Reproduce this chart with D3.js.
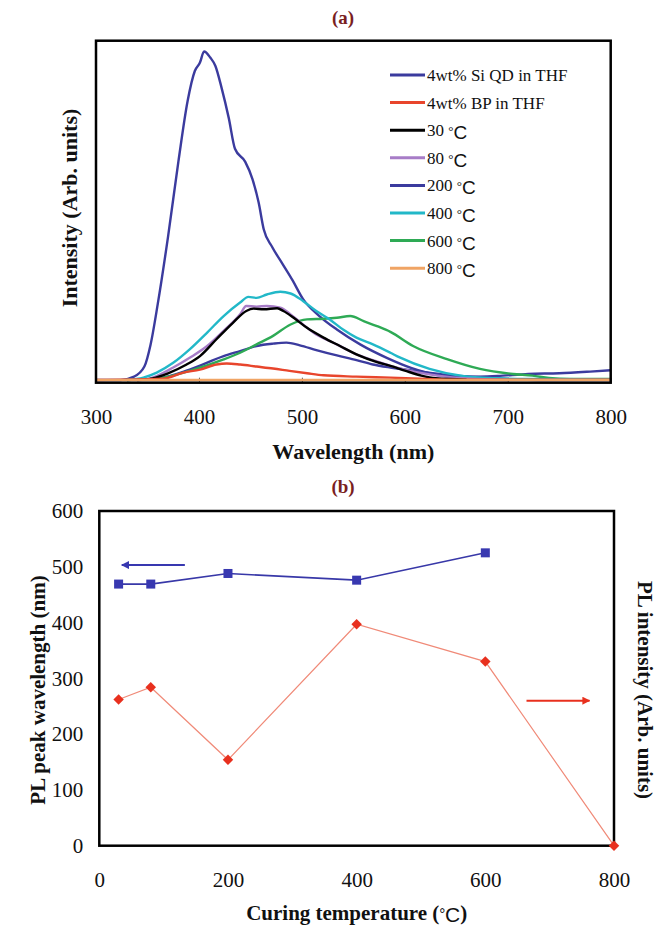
<!DOCTYPE html>
<html><head><meta charset="utf-8">
<script src="https://cdn.jsdelivr.net/npm/d3@7"></script>
<style>body{margin:0;background:#fff}svg{display:block}</style>
</head><body>
<svg id="chart" width="658" height="926"></svg>
<script>
// ---------- Panel (a) data: PL spectra [wavelength nm, intensity arb.] ----------
const wavelengthTicks = [300, 400, 500, 600, 700, 800];
const specSiQD = [[300,0],[324,0],[337,1.0],[347,4.0],[353,10.5],[360,22.6],[370,42.6],[380,64.8],[389,82.9],[396,91.8],[401,94.3],[405,97.6],[411,95.8],[416,93.3],[422,86.8],[429,77.8],[435,68.7],[445,64.8],[452,59.7],[458,52.7],[463,44.7],[471,39.6],[481,34.6],[491,29.6],[501,24.1],[517,19.0],[534,15.0],[557,10.5],[583,6.5],[606,3.6],[632,1.5],[655,0.9],[690,1.2],[720,1.8],[750,2.0],[780,2.5],[800,2.9]];
const specBP = [[300,0],[365,0.4],[385,2.2],[401,3.1],[417,4.6],[427,4.9],[440,4.6],[456,4.0],[472,3.4],[488,2.7],[505,2.0],[521,1.4],[553,1.0],[586,0.7],[620,0.3],[650,0.1],[800,0.1]];
const spec30 = [[340,0],[355,0.5],[370,2.0],[388,4.6],[401,7.1],[417,12.1],[433,17.0],[446,20.5],[453,21.2],[463,21.0],[476,21.3],[482,20.5],[492,18.5],[505,15.5],[521,12.6],[537,10.1],[553,7.6],[573,5.3],[586,4.2],[600,2.8],[616,1.3],[630,0.5],[660,0.1]];
const spec80 = [[340,0],[352,0.4],[375,3.7],[391,6.6],[408,10.1],[424,14.6],[440,19.5],[446,22.0],[456,21.8],[466,22.0],[479,21.5],[489,19.5],[501,16.5],[514,13.5],[527,11.6],[540,9.6],[553,7.6],[569,5.9],[586,4.2],[610,2.4],[640,1.0],[670,0.3],[700,0]];
const spec200 = [[330,0],[359,0.4],[391,3.1],[424,7.1],[440,8.6],[456,10.1],[472,10.8],[485,11.1],[498,10.3],[514,8.9],[534,7.3],[553,5.9],[569,4.6],[586,3.7],[608,2.8],[641,1.5],[673,0.8],[700,0.3],[730,0],[800,0]];
const spec400 = [[330,0],[346,0.7],[359,2.2],[375,5.1],[391,9.1],[408,14.1],[424,19.0],[440,23.0],[448,24.7],[456,24.4],[466,25.4],[479,26.2],[489,25.7],[501,23.5],[514,20.5],[527,18.0],[540,15.0],[553,12.6],[569,10.6],[586,8.1],[595,6.7],[624,3.3],[656,1.2],[690,0.5],[720,0.3],[800,0.2]];
const spec600 = [[330,0],[359,0.4],[391,2.7],[424,6.1],[440,8.1],[456,10.6],[472,13.1],[489,16.5],[505,18.0],[521,18.2],[534,18.5],[547,19.0],[560,17.5],[573,16.0],[586,14.3],[608,10.1],[641,6.2],[673,3.3],[705,1.8],[724,1.3],[740,0.6],[760,0.3],[800,0.3]];
const spec800 = [[300,0],[400,0],[500,0],[600,0],[700,0],[800,0]];
const legendLabels = ["4wt% Si QD in THF","4wt% BP in THF","30","80","200","400","600","800"];
const legendColors = ["#3b3b9e","#e8452c","#000000","#a77cc7","#3b3b9e","#22b8c8","#2eaa55","#f0a464"];
const spectra = [specSiQD, specBP, spec30, spec80, spec200, spec400, spec600, spec800];

// ---------- Panel (b) data ----------
const tempTicks = [0, 200, 400, 600, 800];
const yTicksB = [0, 100, 200, 300, 400, 500, 600];
const curingTempBlue = [30, 80, 200, 400, 600];
const peakWavelength = [469, 469, 488, 476, 525];
const curingTempRed = [30, 80, 200, 400, 600, 800];
const plIntensity = [262, 284, 154, 397, 330, 0];
const blueArrow = [[133, 503], [35, 503]];
const redArrow = [[664, 260], [762, 260]];

// ---------- drawing ----------
const svg = d3.select("#chart");
const serif = "'Liberation Serif','Times New Roman',serif";
const sans = "'Liberation Sans',Arial,sans-serif";
const titleColor = "#7a1f1f";

// Panel (a) scales
const xA = d3.scaleLinear().domain([300, 800]).range([96, 610.7]);
const yA = d3.scaleLinear().domain([0, 100]).range([380, 43.4]);

const gA = svg.append("g");
const axA = d3.axisBottom(xA).tickValues(wavelengthTicks).tickSizeInner(-5).tickSizeOuter(0).tickPadding(26);
const axAg = gA.append("g").attr("transform", `translate(0,${yA(-0.8)})`).call(axA);
axAg.select(".domain").remove();
axAg.selectAll(".tick line").attr("stroke", "#555").attr("stroke-width", 1);
axAg.selectAll(".tick text").attr("font-family", serif).attr("font-size", 21).attr("fill", "#111");

const lineA = d3.line().x(d => xA(d[0])).y(d => yA(d[1])).curve(d3.curveMonotoneX);
const drawOrder = [0, 4, 6, 5, 3, 2, 1, 7];
drawOrder.forEach(i => {
  gA.append("path").datum(spectra[i]).attr("d", lineA)
    .attr("fill", "none").attr("stroke", legendColors[i]).attr("stroke-width", 2.4)
    .attr("stroke-linejoin", "round");
});
gA.append("rect").attr("x", xA(300)).attr("y", yA(100.8))
  .attr("width", xA(800) - xA(300)).attr("height", yA(-0.8) - yA(100.8))
  .attr("fill", "none").attr("stroke", "#000").attr("stroke-width", 2.5);

const leg = gA.append("g");
legendLabels.forEach((lab, i) => {
  const yy = 75 + i * 27.6;
  leg.append("line").attr("x1", 390).attr("x2", 425).attr("y1", yy).attr("y2", yy)
    .attr("stroke", legendColors[i]).attr("stroke-width", 3);
  const t = leg.append("text").attr("x", 427).attr("y", yy + 6)
    .attr("font-family", serif).attr("font-size", 17).attr("fill", "#111");
  if (i < 2) { t.text(lab); }
  else {
    t.append("tspan").text(lab + " ");
    t.append("tspan").attr("font-size", 13).attr("dy", -1).text("°");
    t.append("tspan").attr("font-family", sans).attr("font-size", 19).attr("dy", 4).text("C");
  }
});

gA.append("text").attr("x", 343).attr("y", 24).attr("text-anchor", "middle")
  .attr("font-family", serif).attr("font-weight", "bold").attr("font-size", 19)
  .attr("fill", titleColor).text("(a)");
gA.append("text").attr("x", xA(550)).attr("y", 459).attr("text-anchor", "middle")
  .attr("font-family", serif).attr("font-weight", "bold").attr("font-size", 22)
  .attr("fill", "#111").text("Wavelength (nm)");
gA.append("text").attr("transform", "translate(77,208) rotate(-90)").attr("text-anchor", "middle")
  .attr("font-family", serif).attr("font-weight", "bold").attr("font-size", 22)
  .attr("fill", "#111").text("Intensity (Arb. units)");

// Panel (b) scales
const xB = d3.scaleLinear().domain([0, 800]).range([99.3, 614]);
const yB = d3.scaleLinear().domain([0, 600]).range([845.7, 511]);
const gB = svg.append("g");

const axBx = gB.append("g").attr("transform", `translate(0,${yB(0)})`)
  .call(d3.axisBottom(xB).tickValues(tempTicks).tickSize(0).tickPadding(26));
axBx.select(".domain").remove();
axBx.selectAll(".tick text").attr("font-family", serif).attr("font-size", 21).attr("fill", "#111");
const axBy = gB.append("g").attr("transform", `translate(${xB(0)},0)`)
  .call(d3.axisLeft(yB).tickValues(yTicksB).tickSize(0).tickPadding(16));
axBy.select(".domain").remove();
axBy.selectAll(".tick text").attr("font-family", serif).attr("font-size", 21).attr("fill", "#111");

const redData = curingTempRed.map((t, i) => [t, plIntensity[i]]);
const blueData = curingTempBlue.map((t, i) => [t, peakWavelength[i]]);
const lineB = d3.line().x(d => xB(d[0])).y(d => yB(d[1]));
gB.append("path").datum(redData).attr("d", lineB).attr("fill", "none")
  .attr("stroke", "#f08a78").attr("stroke-width", 1.2);
gB.append("path").datum(blueData).attr("d", lineB).attr("fill", "none")
  .attr("stroke", "#3838a8").attr("stroke-width", 1.6);

gB.append("rect").attr("x", xB(0)).attr("y", yB(600))
  .attr("width", xB(800) - xB(0)).attr("height", yB(0) - yB(600))
  .attr("fill", "none").attr("stroke", "#000").attr("stroke-width", 2.5);

gB.selectAll(".sq").data(blueData).enter().append("rect")
  .attr("x", d => xB(d[0]) - 4.5).attr("y", d => yB(d[1]) - 4.5)
  .attr("width", 9).attr("height", 9).attr("fill", "#3838b0");
gB.selectAll(".dm").data(redData).enter().append("path")
  .attr("d", d3.symbol(d3.symbolDiamond2, 70))
  .attr("transform", d => `translate(${xB(d[0])},${yB(d[1])})`).attr("fill", "#e8301e");

const defs = svg.append("defs");
[["ahBlue", "#3838b0"], ["ahRed", "#e8301e"]].forEach(([id, c]) => {
  defs.append("marker").attr("id", id).attr("viewBox", "0 0 10 10").attr("refX", 9).attr("refY", 5)
    .attr("markerWidth", 4).attr("markerHeight", 4).attr("orient", "auto")
    .append("path").attr("d", "M0,0 L10,5 L0,10 z").attr("fill", c);
});
gB.append("line").attr("x1", xB(blueArrow[0][0])).attr("y1", yB(blueArrow[0][1]))
  .attr("x2", xB(blueArrow[1][0])).attr("y2", yB(blueArrow[1][1]))
  .attr("stroke", "#3838b0").attr("stroke-width", 2).attr("marker-end", "url(#ahBlue)");
gB.append("line").attr("x1", xB(redArrow[0][0])).attr("y1", yB(redArrow[0][1]))
  .attr("x2", xB(redArrow[1][0])).attr("y2", yB(redArrow[1][1]))
  .attr("stroke", "#e8301e").attr("stroke-width", 2).attr("marker-end", "url(#ahRed)");

gB.append("text").attr("x", 343).attr("y", 493).attr("text-anchor", "middle")
  .attr("font-family", serif).attr("font-weight", "bold").attr("font-size", 19)
  .attr("fill", titleColor).text("(b)");
const xt = gB.append("text").attr("x", xB(400)).attr("y", 920).attr("text-anchor", "middle")
  .attr("font-family", serif).attr("font-weight", "bold").attr("font-size", 21).attr("fill", "#111");
xt.append("tspan").text("Curing temperature (");
xt.append("tspan").attr("font-size", 14).attr("dy", -2).text("°");
xt.append("tspan").attr("font-family", sans).attr("font-weight", "normal").attr("font-size", 21).attr("dy", 4).text("C");
xt.append("tspan").attr("dy", -2).text(")");
gB.append("text").attr("transform", "translate(45,690) rotate(-90)").attr("text-anchor", "middle")
  .attr("font-family", serif).attr("font-weight", "bold").attr("font-size", 21)
  .attr("fill", "#111").text("PL peak wavelength (nm)");
gB.append("text").attr("transform", "translate(638,690) rotate(90)").attr("text-anchor", "middle")
  .attr("font-family", serif).attr("font-weight", "bold").attr("font-size", 21)
  .attr("fill", "#111").text("PL intensity (Arb. units)");
</script>
</body></html>
